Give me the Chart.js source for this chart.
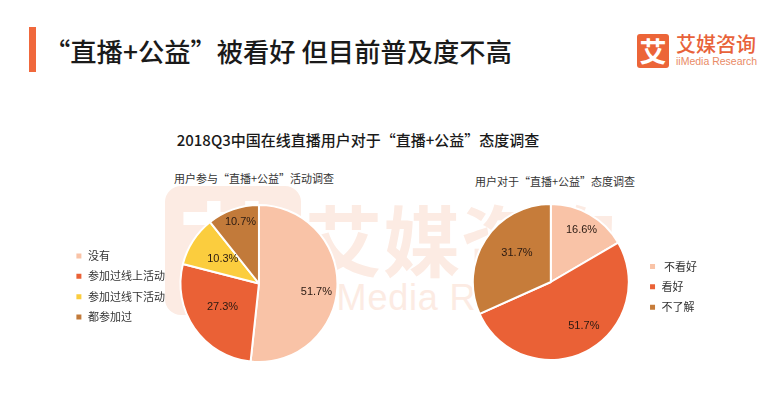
<!DOCTYPE html>
<html>
<head>
<meta charset="utf-8">
<script src="https://cdn.jsdelivr.net/npm/chart.js@4"></script>
<style>
  html, body { margin: 0; padding: 0; background: #fff; }
  body { width: 770px; height: 400px; overflow: hidden; position: relative; font-family: "Noto Sans CJK SC", sans-serif; }
  .abs { position: absolute; white-space: nowrap; }
  .sub { width: 300px; text-align: center; font-size: 11px; line-height: 16px; color: #333; }
  canvas { position: absolute; }
</style>
</head>
<body>
<!-- watermark -->
<div class="abs" style="left:165px;top:186px;width:136px;height:129px;background:#fcebe3;border-radius:16px;"></div>
<div class="abs" style="left:165px;top:180px;width:136px;text-align:center;font-size:112px;line-height:136px;color:#fff;font-weight:700;">艾</div>
<div class="abs" style="left:305px;top:190px;font-size:77px;line-height:96px;color:#fcebe3;letter-spacing:1px;font-weight:700;">艾媒咨询</div>
<div class="abs" style="left:319px;top:276px;font-family:'Liberation Sans';font-size:36px;line-height:44px;color:#fcebe3;letter-spacing:.8px;">iiMedia Research</div>

<!-- header -->
<div class="abs" style="left:29px;top:27px;width:7px;height:45px;background:#f0683c;"></div>
<div class="abs" id="mainTitle" style="left:44px;top:32px;font-size:26.3px;line-height:38px;color:#1a1a1a;font-weight:500;"></div>
<div class="abs" style="left:637px;top:34px;width:32px;height:34px;background:#ec6538;border-radius:3px;color:#fff;text-align:center;font-size:27px;line-height:33px;font-weight:700;">艾</div>
<div class="abs" style="left:676px;top:32px;font-size:20px;line-height:24px;color:#e8623a;font-weight:500;">艾媒咨询</div>
<div class="abs" style="left:676px;top:55px;font-family:'Liberation Sans';font-size:10.5px;line-height:13px;color:#e98a66;">iiMedia Research</div>
<div class="abs" id="chartTitle" style="left:0;width:716px;top:129px;text-align:center;font-size:15px;line-height:22px;color:#1a1a1a;font-weight:500;"></div>
<div class="abs sub" id="joinTitle" style="left:104px;top:170px;"></div>
<div class="abs sub" id="viewTitle" style="left:405px;top:173px;"></div>

<canvas id="joinPie" style="left:66px;top:204px;width:277px;height:159px;"></canvas>
<canvas id="viewPie" style="left:462px;top:203px;width:245px;height:158px;"></canvas>

<script>
const headerText = '“直播+公益”被看好 但目前普及度不高';
const chartText = '2018Q3中国在线直播用户对于“直播+公益”态度调查';

const joinTitle = '用户参与“直播+公益”活动调查';
const joinLabels = ['没有', '参加过线上活动', '参加过线下活动', '都参加过'];
const joinValues = [51.7, 27.3, 10.3, 10.7];
const joinColors = ['#f9c3a7', '#ea6136', '#fbcd3e', '#c27a3a'];

const viewTitle = '用户对于“直播+公益”态度调查';
const viewLabels = [' 不看好', '看好', '不了解'];
const viewValues = [16.6, 51.7, 31.7];
const viewColors = ['#f9c3a7', '#ea6136', '#c67c3a'];

document.getElementById('mainTitle').textContent = headerText;
document.getElementById('chartTitle').textContent = chartText;
document.getElementById('joinTitle').textContent = joinTitle;
document.getElementById('viewTitle').textContent = viewTitle;

//writes the percent on each slice, reach is share of radius, turn is radians off the slice middle
const sliceLabels = {
  id: 'sliceLabels',
  afterDatasetsDraw(chart, args, opts) {
    const ctx = chart.ctx;
    const values = chart.data.datasets[0].data;
    ctx.save();
    ctx.font = '11px "Liberation Sans"';
    ctx.fillStyle = '#2a1a12';
    ctx.textAlign = 'center';
    ctx.textBaseline = 'middle';
    chart.getDatasetMeta(0).data.forEach((arc, i) => {
      const mid = (arc.startAngle + arc.endAngle) / 2 + opts.turn[i];
      const r = arc.outerRadius * opts.reach[i];
      ctx.fillText(values[i].toFixed(1) + '%', arc.x + Math.cos(mid) * r, arc.y + Math.sin(mid) * r);
    });
    ctx.restore();
  }
};

function makePie(id, labels, values, colors, legendPos, nudge, reach, turn) {
  return new Chart(document.getElementById(id), {
    type: 'pie',
    plugins: [sliceLabels],
    data: {
      labels: labels,
      datasets: [{
        data: values,
        backgroundColor: colors,
        borderColor: '#fff',
        borderWidth: 2
      }]
    },
    options: {
      responsive: false,
      animation: false,
      plugins: {
        legend: {
          position: legendPos,
          //blank legend title only pushes the items down a little
          title: { display: true, text: ' ', padding: 0, font: { size: nudge } },
          labels: {
            usePointStyle: true,
            pointStyle: 'rect',
            boxWidth: 7,
            boxHeight: 7,
            padding: 9.4,
            color: '#333',
            font: { family: '"Noto Sans CJK SC"', size: 11 }
          }
        },
        tooltip: { enabled: false },
        sliceLabels: { reach: reach, turn: turn }
      }
    }
  });
}

//size the canvases from the css so the pies land in the right spot
['joinPie', 'viewPie'].forEach(id => {
  const c = document.getElementById(id);
  c.width = parseInt(c.style.width);
  c.height = parseInt(c.style.height);
});

makePie('joinPie', joinLabels, joinValues, joinColors, 'left', 5, [0.74, 0.55, 0.56, 0.82], [0.1, 0.04, 0.03, 0.045]);
makePie('viewPie', viewLabels, viewValues, viewColors, 'right', 8, [0.77, 0.705, 0.57], [0.015, -0.17, 0.13]);
</script>
</body>
</html>
